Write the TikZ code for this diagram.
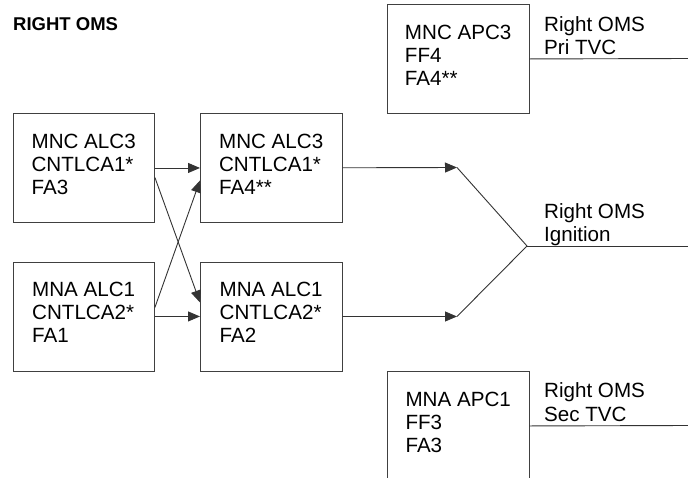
\documentclass[tikz,border=0pt]{standalone}
\usepackage{fontspec}
\setmainfont{Liberation Sans}
\usepackage{tikz}
\usetikzlibrary{arrows.meta,positioning,calc}

\tikzset{
  unitbox/.style={draw=black!75,line width=0.9pt,rectangle,anchor=north west,
    minimum width=141.5pt,minimum height=109pt,inner xsep=17pt,text depth=8pt,
    align=left,font=\fontsize{20.6}{23}\selectfont},
  outlabel/.style={anchor=south west,inner sep=0pt,align=left,
    font=\fontsize{20.6}{23.5}\selectfont},
  feed/.style={draw=black!80,line width=0.9pt},
  arr/.style={feed,-{Triangle[length=12pt,width=10pt]}}
}

\begin{document}
\begin{tikzpicture}[x=1pt,y=1pt]
\useasboundingbox (0,0) rectangle (688,-477);
% Title
\node[anchor=west,inner sep=0pt,font=\fontsize{18.5}{20}\selectfont\bfseries] (title) at (13,-24) {RIGHT OMS};
% ALC boxes
\node[unitbox] (alcA) at (12.5,-113) {MNC ALC3\\CNTLCA1*\\FA3};
\node[unitbox] (alcB) at (200,-113) {MNC ALC3\\CNTLCA1*\\FA4**};
\node[unitbox] (alcC) at (12.5,-261.5) {MNA ALC1\\CNTLCA2*\\FA1};
\node[unitbox] (alcD) at (200,-261.5) {MNA ALC1\\CNTLCA2*\\FA2};
% APC boxes
\node[unitbox] (apcE) at (387,-4) {MNC APC3\\FF4\\FA4**};
\node[unitbox] (apcF) at (387,-371) {MNA APC1\\FF3\\FA3};
% Cross strapping
\draw[arr] (alcA) -- (alcB);
\draw[arr] (alcC) -- (alcD);
\draw[arr] ($(alcA.east)+(0,-9.5)$) -- ($(alcD.west)+(0,14)$);
\draw[arr] ($(alcC.east)+(0,9)$) -- ($(alcB.west)+(0,-12.5)$);
% Ignition
\coordinate (ignTop) at (457,-167.5);
\coordinate (ignBot) at (457,-316.5);
\coordinate (ignJoin) at (527,-246);
\coordinate (ignEnd) at (688,-246);
\draw[arr] (alcB) -- (ignTop);
\draw[arr] (alcD) -- (ignBot);
\draw[feed] (ignTop) -- (ignJoin) -- (ignBot);
\draw[feed] (ignJoin) -- (ignEnd);
\node[outlabel] (ignLabel) at (544,-246) {Right OMS\\Ignition};
% TVC
\coordinate (priEnd) at (688,-58.5);
\coordinate (secEnd) at (688,-425.5);
\draw[feed] (apcE.east) -- (priEnd);
\draw[feed] (apcF.east) -- (secEnd);
\node[outlabel] (priLabel) at (544,-55) {Right OMS\\Pri TVC};
\node[outlabel] (secLabel) at (544,-421.5) {Right OMS\\Sec TVC};
\end{tikzpicture}
\end{document}
